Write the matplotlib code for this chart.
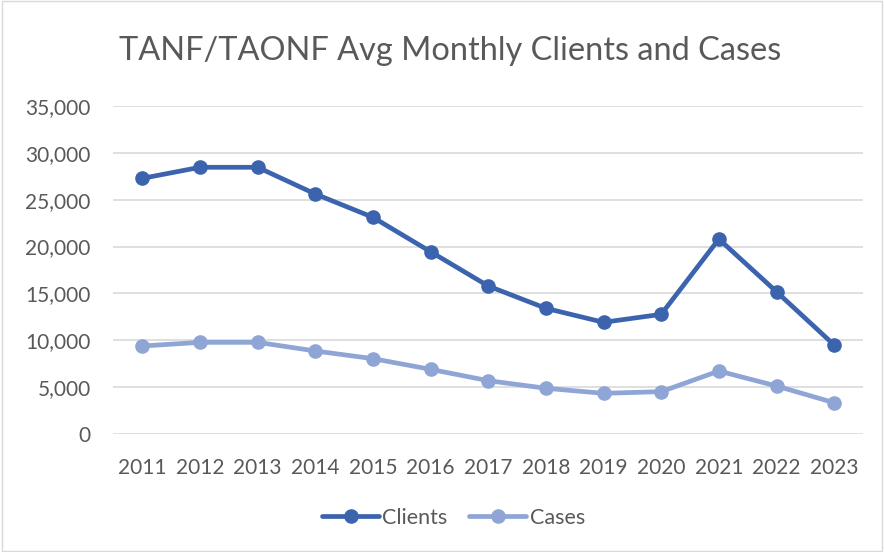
import matplotlib
matplotlib.use("Agg")
import matplotlib.pyplot as plt
from matplotlib.ticker import FuncFormatter
from matplotlib.patches import Rectangle

years = ["2011", "2012", "2013", "2014", "2015", "2016", "2017",
         "2018", "2019", "2020", "2021", "2022", "2023"]
clients = [27280, 28460, 28460, 25610, 23120, 19450, 15790,
           13410, 11920, 12770, 20800, 15180, 9500]
cases = [9390, 9780, 9780, 8860, 8040, 6900, 5690,
         4880, 4340, 4520, 6720, 5120, 3340]

plt.rcParams['font.family'] = ['Lato', 'DejaVu Sans']
txt = '#595959'

fig = plt.figure(figsize=(8.84, 5.52), dpi=100)
ax = fig.add_axes([113.5/884, 1-434/552, (863-113.5)/884, (434-106)/552])

x = range(len(years))
ax.plot(x, clients, color='#3C64AE', lw=3.4, marker='o', ms=9.5, label='Clients',
        solid_capstyle='round', zorder=3)
ax.plot(x, cases, color='#8FA5D6', lw=3.4, marker='o', ms=9.5, label='Cases',
        solid_capstyle='round', zorder=3)

ax.set_xlim(-0.5, len(years) - 0.5)
ax.set_ylim(0, 35000)
ax.set_yticks(range(0, 35001, 5000))
ax.yaxis.set_major_formatter(FuncFormatter(lambda v, p: f"{int(v):,}"))
ax.set_xticks(list(x))
ax.set_xticklabels(years)
ax.grid(axis='y', color='#D9D9D9', lw=1.2)
ax.set_axisbelow(True)
for s in ax.spines.values():
    s.set_visible(False)
ax.tick_params(length=0, labelsize=15, colors=txt)
ax.tick_params(axis='x', pad=17)
ax.tick_params(axis='y', pad=16.5)

fig.text(0.509, 0.907, 'TANF/TAONF Avg Monthly Clients and Cases',
         ha='center', va='center', fontsize=23.4, color=txt)

leg = fig.legend(loc='center', bbox_to_anchor=(0.513, 0.062), ncol=2, frameon=False,
                 fontsize=15.5, handlelength=2.65, columnspacing=1.0, handletextpad=0.15)
for t in leg.get_texts():
    t.set_color(txt)

fig.patches.append(Rectangle((0.002, 0.002), 0.996, 0.996, transform=fig.transFigure,
                             fill=False, edgecolor='#D9D9D9', lw=1))

fig.savefig('out.png', dpi=100)
